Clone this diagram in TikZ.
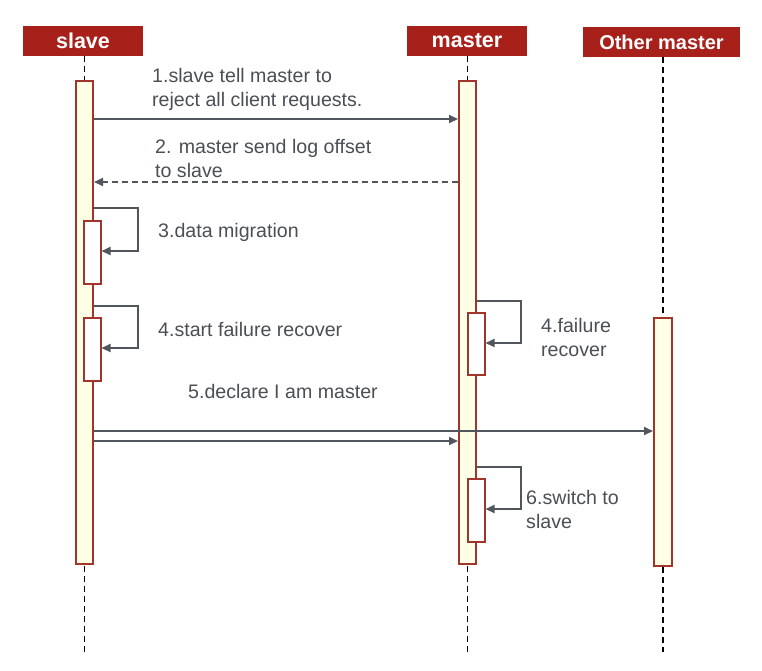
\documentclass[tikz,border=0pt]{standalone}
\usepackage{fontspec}
\setmainfont{Liberation Sans}
\usetikzlibrary{arrows.meta}
\definecolor{hdr}{HTML}{A8201A}
\definecolor{barc}{HTML}{A3342C}
\definecolor{barf}{HTML}{FFFFE6}
\definecolor{ink}{HTML}{50565C}
\definecolor{txt}{HTML}{4A4F55}
\begin{document}
\begin{tikzpicture}[x=1pt,y=-1pt,
  hdrbox/.style={fill=hdr, text=white, font=\fontsize{21.5}{24}\selectfont\bfseries, minimum height=30pt, inner sep=0pt},
  lifeline/.style={draw=black, line width=1.2pt, dash pattern=on 6pt off 4pt},
  bar/.style={draw=barc, fill=barf, line width=2pt, minimum width=17pt, inner sep=0pt, anchor=north},
  subbar/.style={draw=barc, fill=white, line width=2pt, minimum width=17pt, inner sep=0pt, anchor=north},
  msg/.style={draw=ink, line width=2pt, -{Triangle[length=9pt,width=8pt]}},
  lbl/.style={text=txt, font=\fontsize{19.6}{24}\selectfont, align=left, inner sep=0pt, anchor=west}]
\useasboundingbox (0,0) rectangle (762,670);
% headers
\node[hdrbox, minimum width=120pt] (hs) at (83,41) {slave};
\node[hdrbox, minimum width=120pt] (hm) at (467,41) {master};
\node[hdrbox, minimum width=157pt, font=\fontsize{20}{24}\selectfont\bfseries] (ho) at (661.5,42) {Other master};
% lifeline ends
\coordinate (es) at (84.5,652);
\coordinate (em) at (467.5,652);
\coordinate (eo) at (663,652);
\draw[lifeline] (hs.south -| es) -- (es);
\draw[lifeline] (hm.south -| em) -- (em);
\draw[lifeline] (ho.south -| eo) -- (eo);
% activation bars
\node[bar, minimum height=483pt] (sbar) at (84.5,80) {};
\node[bar, minimum height=483pt] (mbar) at (467.5,80) {};
\node[bar, minimum height=248pt, minimum width=18pt] (obar) at (663,317) {};
\node[subbar, minimum height=63pt] (s3) at (92,220) {};
\node[subbar, minimum height=63pt] (s4) at (92,317) {};
\node[subbar, minimum height=62pt] (m4) at (476,312) {};
\node[subbar, minimum height=63pt] (m6) at (476,478) {};
% messages
\draw[msg] (sbar.east |- 0,119) -- (mbar.west |- 0,119);
\draw[msg, dash pattern=on 6pt off 4pt] (mbar.west |- 0,182) -- (sbar.east |- 0,182);
\draw[msg] (sbar.east |- 0,208) -- ++(44,0) |- (s3.east |- 0,251);
\draw[msg] (sbar.east |- 0,306) -- ++(44,0) |- (s4.east |- 0,348);
\draw[msg] (mbar.east |- 0,301) -- ++(44,0) |- (m4.east |- 0,343);
\draw[msg] (sbar.east |- 0,431) -- (obar.west |- 0,431);
\draw[msg] (sbar.east |- 0,441) -- (mbar.west |- 0,441);
\draw[msg] (mbar.east |- 0,467) -- ++(44,0) |- (m6.east |- 0,509);
% labels
\node[lbl] (l1) at (152,89) {1.slave tell master to\\reject all client requests.};
\node[lbl] (l2) at (155,158.5) {2. master send log offset\\to slave};
\node[lbl] (l3) at (158,232) {3.data migration};
\node[lbl] (l4) at (158,329) {4.start failure recover};
\node[lbl] (l4m) at (541,337) {4.failure\\recover};
\node[lbl] (l5) at (188,391) {5.declare I am master};
\node[lbl] (l6) at (526,509) {6.switch to\\slave};
\end{tikzpicture}
\end{document}
